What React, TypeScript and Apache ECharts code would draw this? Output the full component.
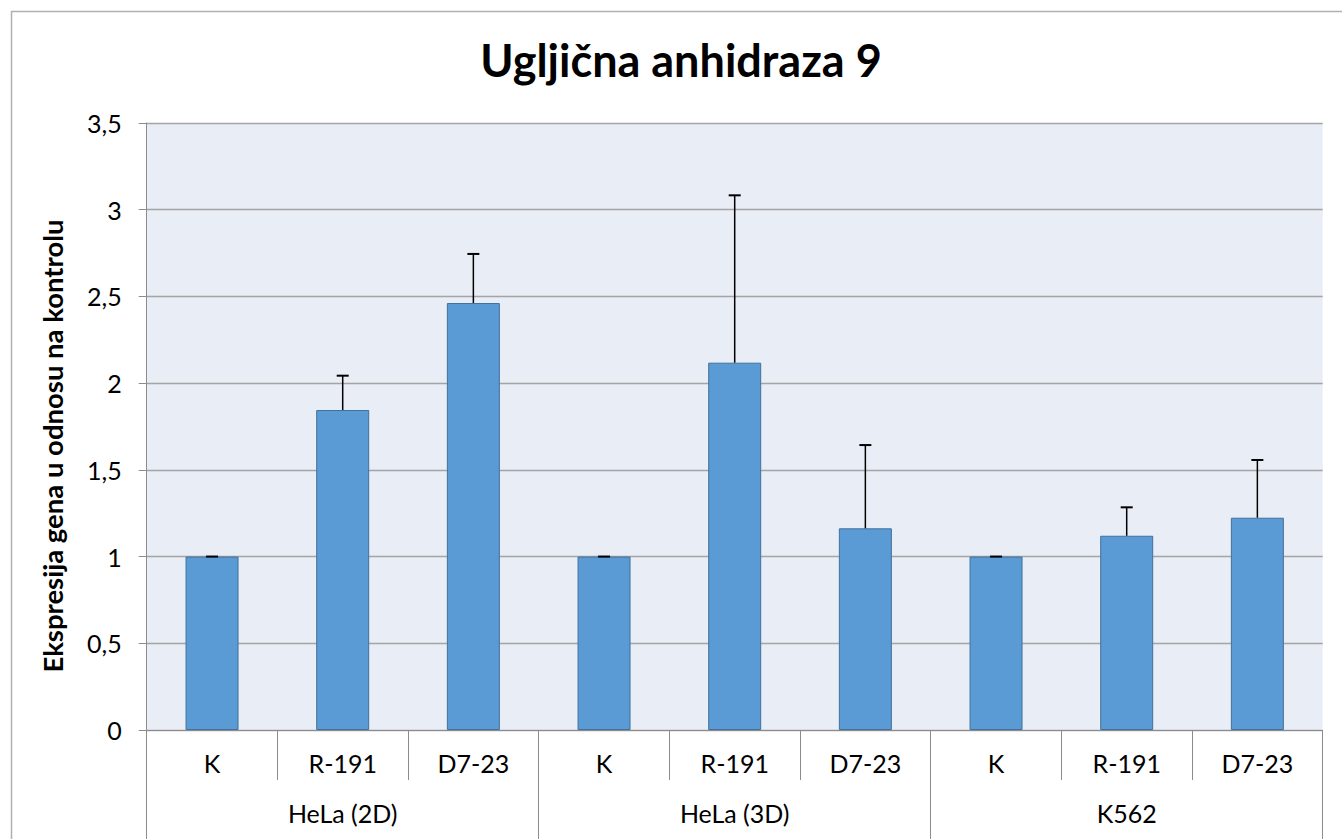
import React, { useEffect, useRef } from "react";
import * as echarts from "echarts";

const categories = ["K", "R-191", "D7-23", "K", "R-191", "D7-23", "K", "R-191", "D7-23"];
const groups = ["HeLa (2D)", "HeLa (3D)", "K562"];
const values = [1, 1.845, 2.462, 1, 2.118, 1.163, 1, 1.12, 1.224];
const errors = [0, 0.198, 0.283, 0, 0.965, 0.48, 0, 0.164, 0.333];
const titleText = "Ugljična anhidraza 9";
const yTitle = "Ekspresija gena u odnosu na kontrolu";

const FONT = "Lato, 'Noto Sans', sans-serif";
const AXIS_GRAY = "#8C8C8C";

export default function App() {
  const ref = useRef<HTMLDivElement>(null);
  useEffect(() => {
    if (!ref.current) return;
    const chart = echarts.init(ref.current, undefined, { renderer: "svg" });
    const errData = values.map((v, i) => [i, v, errors[i]]);
    chart.setOption({
      animation: false,
      backgroundColor: "#ffffff",
      textStyle: { fontFamily: FONT },
      graphic: [
        {
          type: "rect",
          shape: { x: 11.5, y: 11.5, width: 1345, height: 845 },
          style: { fill: "none", stroke: "#B0B0B0", lineWidth: 1.5 },
          z: -10,
        },
        {
          type: "text",
          x: 681,
          y: 60,
          style: {
            text: titleText,
            fontFamily: FONT,
            fontWeight: "bold",
            fontSize: 45,
            fill: "#000",
            textAlign: "center",
            textVerticalAlign: "middle",
          },
        },
        {
          type: "text",
          x: 52,
          y: 446,
          rotation: Math.PI / 2,
          style: {
            text: yTitle,
            fontFamily: FONT,
            fontWeight: "bold",
            fontSize: 27.5,
            fill: "#000",
            textAlign: "center",
            textVerticalAlign: "middle",
          },
        },
      ],
      grid: {
        left: 146.7,
        right: 19.3,
        top: 123,
        bottom: 109,
        show: true,
        backgroundColor: "#E9EDF6",
        borderWidth: 0,
      },
      xAxis: [
        {
          type: "category",
          data: categories,
          position: "bottom",
          axisLine: { show: true, lineStyle: { color: AXIS_GRAY, width: 1 } },
          axisTick: { show: true, alignWithLabel: false, length: 50, lineStyle: { color: AXIS_GRAY } },
          axisLabel: { fontSize: 25, color: "#000", margin: 20, fontFamily: FONT },
          splitLine: { show: false },
        },
        {
          type: "category",
          data: groups,
          position: "bottom",
          axisLine: { show: false },
          axisTick: { show: true, alignWithLabel: false, length: 112, lineStyle: { color: AXIS_GRAY } },
          axisLabel: { fontSize: 25, color: "#000", margin: 70, fontFamily: FONT },
          splitLine: { show: false },
        },
      ],
      yAxis: {
        type: "value",
        min: 0,
        max: 3.5,
        interval: 0.5,
        axisLine: { show: true, lineStyle: { color: AXIS_GRAY, width: 1 } },
        axisTick: { show: true, inside: false, length: 8, lineStyle: { color: AXIS_GRAY } },
        axisLabel: {
          fontSize: 25,
          color: "#000",
          margin: 25,
          fontFamily: FONT,
          formatter: (v: number) => String(v).replace(".", ","),
        },
        splitLine: { show: true, lineStyle: { color: "#A5A5A5", width: 1.3 } },
      },
      series: [
        {
          type: "bar",
          xAxisIndex: 0,
          yAxisIndex: 0,
          data: values,
          barWidth: 53,
          itemStyle: { color: "#5B9BD5", borderColor: "#41719C", borderWidth: 1 },
          z: 2,
        },
        {
          type: "custom",
          xAxisIndex: 0,
          yAxisIndex: 0,
          data: errData,
          encode: { x: 0, y: 1 },
          z: 5,
          renderItem: (params: any, api: any) => {
            const i = api.value(0);
            const v = api.value(1);
            const e = api.value(2);
            const p0 = api.coord([i, v]);
            const p1 = api.coord([i, v + e]);
            return {
              type: "group",
              children: [
                {
                  type: "line",
                  shape: { x1: p0[0], y1: p0[1], x2: p1[0], y2: p1[1] },
                  style: { stroke: "#000", lineWidth: 1.5 },
                },
                {
                  type: "line",
                  shape: { x1: p1[0] - 6, y1: p1[1], x2: p1[0] + 6, y2: p1[1] },
                  style: { stroke: "#000", lineWidth: 2 },
                },
              ],
            };
          },
        },
      ],
    });
    return () => chart.dispose();
  }, []);
  return (
    <div
      ref={ref}
      style={{ position: "fixed", left: 0, top: 0, width: 1342, height: 839 }}
    />
  );
}
